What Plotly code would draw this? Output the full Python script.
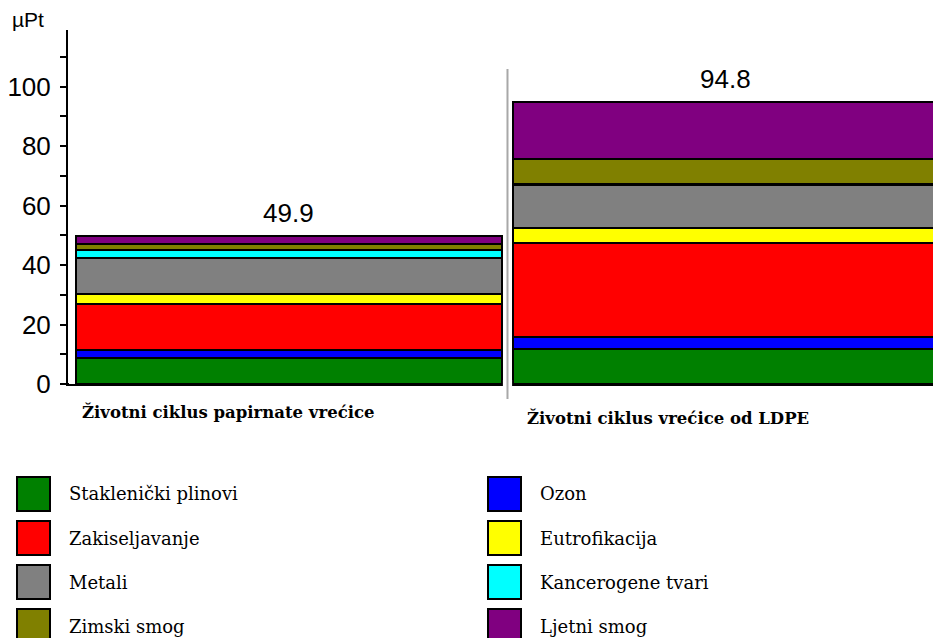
import plotly.graph_objects as go

# Impact categories (bottom to top of each stacked bar) and their colours
categories = ["Staklenički plinovi", "Ozon", "Zakiseljavanje", "Eutrofikacija",
              "Metali", "Kancerogene tvari", "Zimski smog", "Ljetni smog"]
colors = ["#008000", "#0000FF", "#FF0000", "#FFFF00",
          "#808080", "#00FFFF", "#808000", "#800080"]

# Life-cycle variants (x positions 0 and 1)
products = ["Životni ciklus papirnate vrećice", "Životni ciklus vrećice od LDPE"]

# Scores in µPt per category
paper_bag = [8.7, 2.7, 15.4, 3.4, 12.0, 2.8, 2.2, 2.7]
ldpe_bag = [11.8, 4.0, 31.5, 5.2, 14.3, 0.5, 8.4, 19.1]

y_ticks = [0, 20, 40, 60, 80, 100]
unit_label = "µPt"

SERIF = "DejaVu Serif"
SANS = "Liberation Sans"

# Layout geometry
W, H = 933, 638
ML, MT, MB, MR = 68, 30, 254, 0
X_RANGE = [-0.5057, 1.4737]
Y_RANGE = [0, 119]
BAR_W = 0.975
PLOT_W = W - ML - MR
PLOT_H = H - MT - MB


def px_x(px):
    return (px - ML) / PLOT_W


def px_y(py):
    return (H - MB - py) / PLOT_H


def x_to_paper(x):
    return (x - X_RANGE[0]) / (X_RANGE[1] - X_RANGE[0])


fig = go.Figure()
for i, name in enumerate(categories):
    fig.add_trace(go.Bar(
        x=[0, 1],
        y=[paper_bag[i], ldpe_bag[i]],
        name=name,
        width=BAR_W,
        marker=dict(color=colors[i], line=dict(color="black", width=2)),
        showlegend=False,
    ))

totals = [round(sum(paper_bag), 1), round(sum(ldpe_bag), 1)]
annotations = []
for xi, t in enumerate(totals):
    annotations.append(dict(
        x=xi, y=t, xref="x", yref="y", text=f"{t:.1f}",
        showarrow=False, yanchor="bottom", yshift=6,
        font=dict(family=SANS, size=26, color="black"),
    ))

# Category captions under the bars
caption_pos = [(80, 412), (525, 418)]
for text, (cx, cy) in zip(products, caption_pos):
    annotations.append(dict(
        x=px_x(cx), y=px_y(cy), xref="paper", yref="paper", text=f"<b>{text}</b>",
        showarrow=False, xanchor="left", yanchor="middle",
        font=dict(family=SERIF, size=16.5, color="black"),
    ))

# Unit label above the value axis
annotations.append(dict(
    x=px_x(10), y=px_y(19), xref="paper", yref="paper", text=unit_label,
    showarrow=False, xanchor="left", yanchor="middle",
    font=dict(family=SANS, size=21, color="black"),
))

shapes = []
# Break in the baseline between the two bars and the grey divider
gap_l = x_to_paper(0 + BAR_W / 2)
gap_r = x_to_paper(1 - BAR_W / 2)
shapes.append(dict(type="rect", xref="paper", yref="paper",
                   x0=gap_l + 0.001, x1=gap_r - 0.001, y0=px_y(387), y1=px_y(380),
                   fillcolor="white", line=dict(width=0), layer="above"))
shapes.append(dict(type="line", xref="paper", yref="paper",
                   x0=x_to_paper(0.5), x1=x_to_paper(0.5), y0=px_y(399), y1=px_y(69),
                   line=dict(color="#A8A8A8", width=2), layer="above"))
# Baseline overhang left of the value axis
shapes.append(dict(type="line", xref="paper", yref="paper",
                   x0=px_x(62), x1=px_x(69), y0=0, y1=0,
                   line=dict(color="black", width=2)))

# Two-column legend with large swatches
for i, name in enumerate(categories):
    col, row = i % 2, i // 2
    sx = 17 + col * 471
    sy = 477 + row * 44
    shapes.append(dict(type="rect", xref="paper", yref="paper",
                       x0=px_x(sx), x1=px_x(sx + 33), y0=px_y(sy + 34), y1=px_y(sy),
                       fillcolor=colors[i], line=dict(color="black", width=2)))
    annotations.append(dict(
        x=px_x(sx + 50), y=px_y(sy + 17), xref="paper", yref="paper", text=name,
        showarrow=False, xanchor="left", yanchor="middle",
        font=dict(family=SERIF, size=18, color="black"),
    ))

fig.update_layout(
    width=W, height=H,
    margin=dict(l=ML, r=MR, t=MT, b=MB),
    barmode="stack",
    bargap=0,
    plot_bgcolor="white",
    paper_bgcolor="white",
    annotations=annotations,
    shapes=shapes,
    xaxis=dict(range=X_RANGE, showticklabels=False, ticks="", showgrid=False,
               zeroline=False, showline=True, linecolor="black", linewidth=2,
               fixedrange=True),
    yaxis=dict(range=Y_RANGE, tickvals=y_ticks, ticks="outside", ticklen=6,
               tickwidth=2, tickcolor="black", showline=True, linecolor="black",
               linewidth=2, showgrid=False, zeroline=False, ticklabelstandoff=4,
               minor=dict(dtick=10, ticks="outside", ticklen=6, tickwidth=2,
                          tickcolor="black", showgrid=False),
               tickfont=dict(family=SANS, size=26, color="black"),
               fixedrange=True),
)

fig.write_html("out.html")
